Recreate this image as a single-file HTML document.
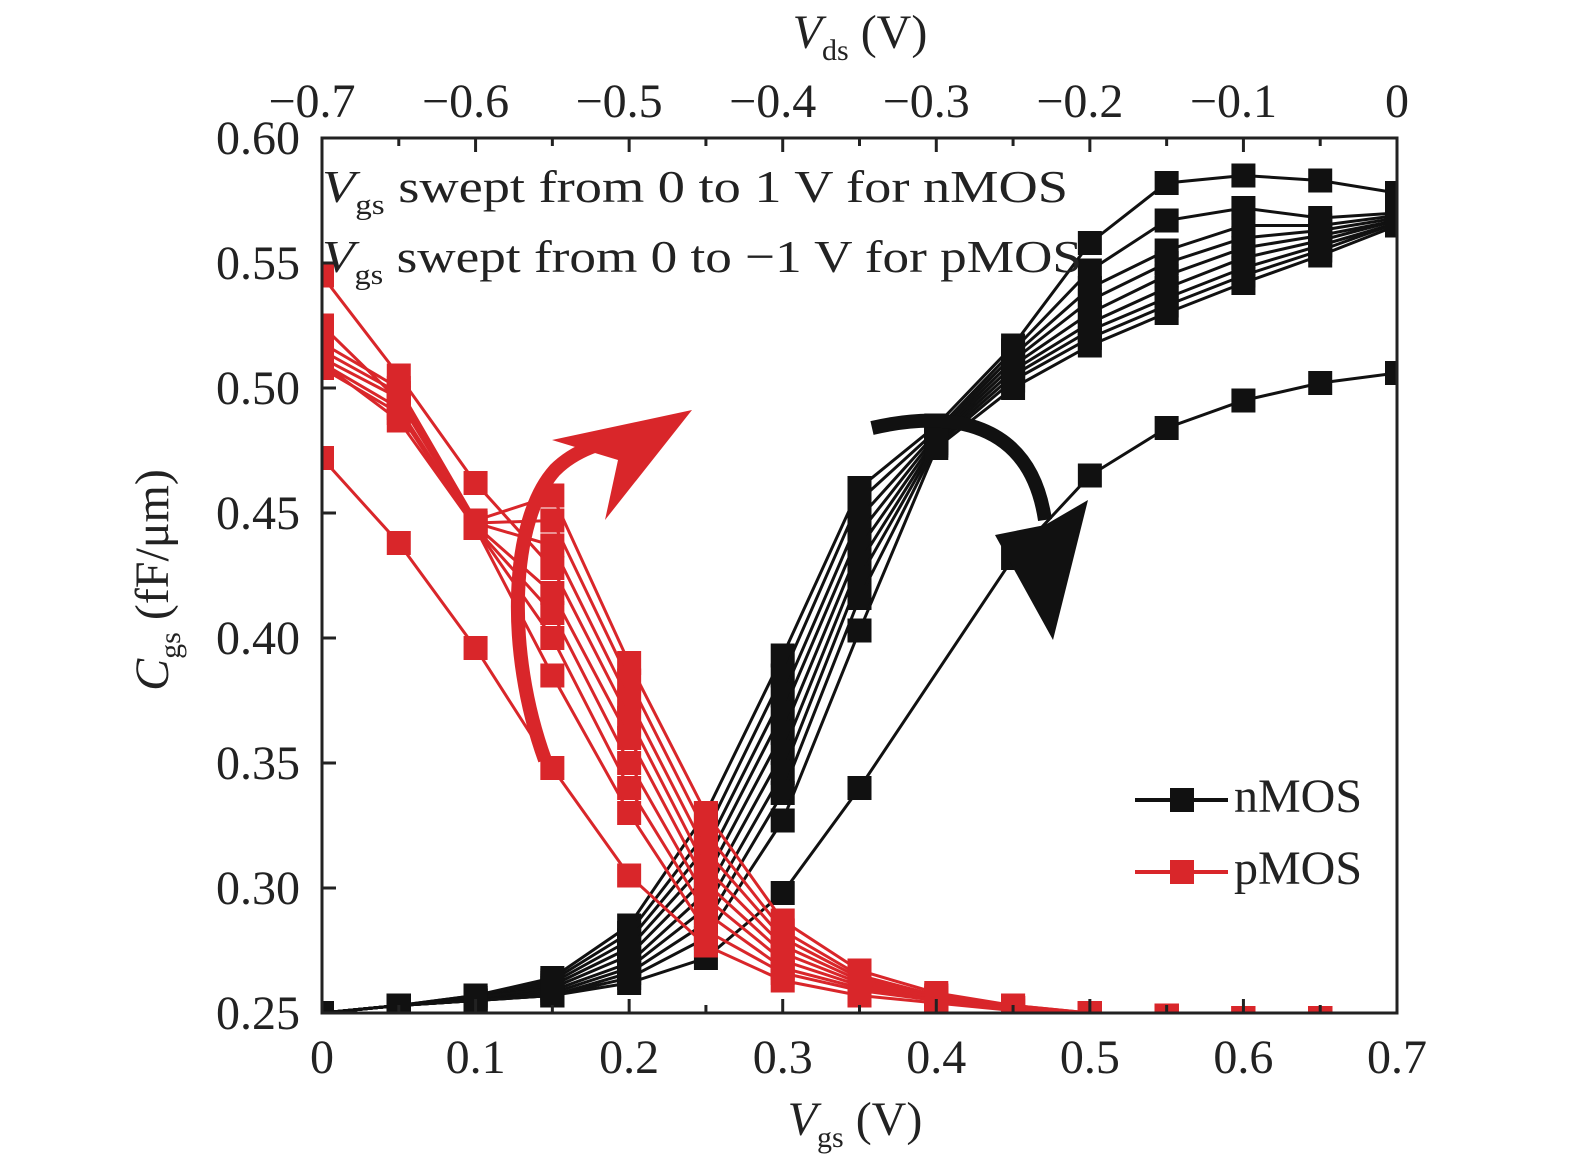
<!DOCTYPE html>
<html><head><meta charset="utf-8"><style>
html,body{margin:0;padding:0;background:#fff}
svg{display:block;font-family:"Liberation Serif",serif}
</style></head><body>
<svg width="1575" height="1167" viewBox="0 0 1575 1167" xmlns="http://www.w3.org/2000/svg">
<defs><clipPath id="pc"><rect x="322" y="138" width="1075" height="875"/></clipPath></defs>
<g id="marks" clip-path="url(#pc)"></g>
<g id="axes"></g>
<path d="M545,760 C505,650 510,520 555,470 C575,450 605,440 630,438" fill="none" stroke="#d9262a" stroke-width="14"/>
<path d="M552,440 L692,410 L605,520 L618,460 Z" fill="#d9262a"/>
<path d="M872,428 C950,410 1030,420 1045,520" fill="none" stroke="#111" stroke-width="14"/>
<path d="M995,535 L1045,525 L1088,500 L1053,640 Z" fill="#111"/>
<text x="322" y="202" font-size="46" fill="#222" textLength="746" lengthAdjust="spacingAndGlyphs"><tspan font-style="italic">V</tspan><tspan font-size="28" dy="12">gs</tspan><tspan dy="-12"> swept from 0 to 1 V for nMOS</tspan></text>
<text x="322" y="272" font-size="46" fill="#222" textLength="760" lengthAdjust="spacingAndGlyphs"><tspan font-style="italic">V</tspan><tspan font-size="28" dy="12">gs</tspan><tspan dy="-12"> swept from 0 to −1 V for pMOS</tspan></text>
<g>
<line x1="1135" y1="800" x2="1228" y2="800" stroke="#111" stroke-width="4"/><rect x="1170" y="788" width="24" height="24" fill="#111"/>
<text x="1234" y="812" font-size="48" fill="#222">nMOS</text>
<line x1="1135" y1="872" x2="1228" y2="872" stroke="#d9262a" stroke-width="4"/><rect x="1170" y="860" width="24" height="24" fill="#d9262a"/>
<text x="1234" y="884" font-size="48" fill="#222">pMOS</text>
</g>
<text x="855" y="1135" font-size="48" text-anchor="middle" fill="#222"><tspan font-style="italic">V</tspan><tspan font-size="30" dy="12">gs</tspan><tspan dy="-12"> (V)</tspan></text>
<text x="860" y="48" font-size="48" text-anchor="middle" fill="#222"><tspan font-style="italic">V</tspan><tspan font-size="30" dy="12">ds</tspan><tspan dy="-12"> (V)</tspan></text>
<text transform="translate(168,580) rotate(-90)" font-size="48" text-anchor="middle" fill="#222"><tspan font-style="italic">C</tspan><tspan font-size="30" dy="12">gs</tspan><tspan dy="-12"> (fF/μm)</tspan></text>
</svg>
<script>
const xsN=[0,0.05,0.1,0.15,0.2,0.25,0.3,0.35,0.4,0.45,0.5,0.55,0.6,0.65,0.7];
const xsLow=[0,0.05,0.1,0.15,0.2,0.25,0.3,0.35,0.45,0.5,0.55,0.6,0.65,0.7];
const xsP=[0,0.05,0.1,0.15,0.2,0.25,0.3,0.35,0.4,0.45,0.5,0.55,0.6,0.65];
const xTicks=[0,0.1,0.2,0.3,0.4,0.5,0.6,0.7];
const xTickLabels=["0","0.1","0.2","0.3","0.4","0.5","0.6","0.7"];
const yTicks=[0.25,0.30,0.35,0.40,0.45,0.50,0.55,0.60];
const yTickLabels=["0.25","0.30","0.35","0.40","0.45","0.50","0.55","0.60"];
const topTicks=[-0.7,-0.6,-0.5,-0.4,-0.3,-0.2,-0.1,0];
const topTickLabels=["−0.7","−0.6","−0.5","−0.4","−0.3","−0.2","−0.1","0"];
const nTop=[0.25,0.253,0.257,0.264,0.285,0.33,0.393,0.46,0.485,0.517,0.558,0.582,0.585,0.583,0.578];
const nB1=[0.25,0.253,0.257,0.263,0.282,0.322,0.385,0.455,0.483,0.515,0.547,0.567,0.572,0.568,0.570];
const nB2=[0.25,0.253,0.256,0.262,0.279,0.316,0.377,0.448,0.482,0.513,0.540,0.555,0.565,0.565,0.569];
const nB3=[0.25,0.253,0.256,0.261,0.276,0.310,0.370,0.442,0.481,0.511,0.535,0.550,0.560,0.563,0.568];
const nB4=[0.25,0.253,0.256,0.260,0.273,0.304,0.362,0.436,0.480,0.509,0.530,0.545,0.556,0.561,0.567];
const nB5=[0.25,0.253,0.255,0.259,0.270,0.298,0.354,0.430,0.479,0.507,0.526,0.540,0.552,0.559,0.567];
const nB6=[0.25,0.253,0.255,0.258,0.268,0.292,0.346,0.424,0.478,0.505,0.523,0.536,0.548,0.557,0.566];
const nB7=[0.25,0.253,0.255,0.257,0.266,0.286,0.338,0.416,0.477,0.503,0.520,0.533,0.545,0.555,0.566];
const nB8=[0.25,0.253,0.255,0.257,0.264,0.280,0.327,0.403,0.476,0.500,0.517,0.530,0.542,0.553,0.565];
const nLow=[0.25,0.253,0.255,0.257,0.262,0.272,0.298,0.34,0.432,0.465,0.484,0.495,0.502,0.506];
const p1=[0.518,0.500,0.447,0.457,0.390,0.330,0.287,0.267,0.258,0.253,0.250,0.249,0.248,0.248];
const p2=[0.515,0.498,0.446,0.447,0.383,0.322,0.283,0.265,0.257,0.253,0.250,0.249,0.248,0.248];
const p3=[0.512,0.496,0.446,0.437,0.375,0.315,0.280,0.264,0.257,0.252,0.250,0.249,0.248,0.248];
const p4=[0.545,0.505,0.462,0.428,0.368,0.308,0.277,0.263,0.256,0.252,0.250,0.249,0.248,0.248];
const p5=[0.525,0.495,0.445,0.418,0.360,0.302,0.274,0.262,0.256,0.252,0.250,0.249,0.248,0.248];
const p6=[0.510,0.492,0.444,0.410,0.350,0.296,0.271,0.261,0.255,0.252,0.250,0.249,0.248,0.248];
const p7=[0.508,0.490,0.444,0.400,0.340,0.290,0.268,0.260,0.255,0.252,0.250,0.249,0.248,0.248];
const p8=[0.510,0.487,0.444,0.385,0.330,0.283,0.266,0.259,0.255,0.251,0.250,0.249,0.248,0.248];
const p9=[0.472,0.438,0.396,0.348,0.305,0.277,0.263,0.257,0.254,0.251,0.250,0.249,0.248,0.248];

const NS="http://www.w3.org/2000/svg";
const X0=322,X1=1397,Y0=1013,Y1=138;
function xs(v){return X0+(v-0)/0.7*(X1-X0);}
function xTop(v){return X0+(v+0.7)/0.7*(X1-X0);}
function ys(v){return Y0-(v-0.25)/0.35*(Y0-Y1);}
function mk(t,a,p){const e=document.createElementNS(NS,t);for(const k in a)e.setAttribute(k,a[k]);p.appendChild(e);return e;}
const marks=document.getElementById('marks'),axes=document.getElementById('axes');
function series(xv,yv,col,name){
  const g=mk('g',{},marks);
  
  
  const pts=yv.map((v,i)=>xs(xv[i]).toFixed(1)+','+ys(v).toFixed(1)).join(' ');
  const pl=mk('polyline',{points:pts,fill:'none',stroke:col,'stroke-width':3},g);
  
  
  yv.forEach((v,i)=>{
    const r=mk('rect',{x:xs(xv[i])-12,y:ys(v)-12,width:24,height:24,fill:col},g);
    
    
  });
}
[[nTop,'top'],[nB1,'b1'],[nB2,'b2'],[nB3,'b3'],[nB4,'b4'],[nB5,'b5'],[nB6,'b6'],[nB7,'b7'],[nB8,'b8']].forEach(s=>series(xsN,s[0],'#111','nmos-series-'+s[1]));
series(xsLow,nLow,'#111','nmos-series-low');
[[p1,'1'],[p2,'2'],[p3,'3'],[p4,'4'],[p5,'5'],[p6,'6'],[p7,'7'],[p8,'8'],[p9,'9']].forEach(s=>series(xsP,s[0],'#d9262a','pmos-series-'+s[1]));

const fr=mk('rect',{x:X0,y:Y1,width:X1-X0,height:Y0-Y1,fill:'none',stroke:'#222','stroke-width':3},axes);


for(let i=0;i<=14;i++){
  const x=X0+i*(X1-X0)/14, L=i%2?8:14;
  mk('line',{x1:x,y1:Y0,x2:x,y2:Y0-L,stroke:'#222','stroke-width':3},axes);
  mk('line',{x1:x,y1:Y1,x2:x,y2:Y1+L,stroke:'#222','stroke-width':3},axes);
}
xTicks.forEach((v,i)=>{
  const t=mk('text',{x:xs(v),y:1073,'font-size':48,'text-anchor':'middle',fill:'#222'},axes);
  t.textContent=xTickLabels[i];
  
  
});
topTicks.forEach((v,i)=>{
  const t=mk('text',{x:xTop(v)-(i===7?0:10),y:117,'font-size':48,'text-anchor':'middle',fill:'#222'},axes);
  t.textContent=topTickLabels[i];
  
  
});
yTicks.forEach((v,i)=>{
  mk('line',{x1:X0,y1:ys(v),x2:X0+14,y2:ys(v),stroke:'#222','stroke-width':3},axes);
  const t=mk('text',{x:300,y:ys(v)+16,'font-size':48,'text-anchor':'end',fill:'#222'},axes);
  t.textContent=yTickLabels[i];
  
  
});
</script>
</body></html>
